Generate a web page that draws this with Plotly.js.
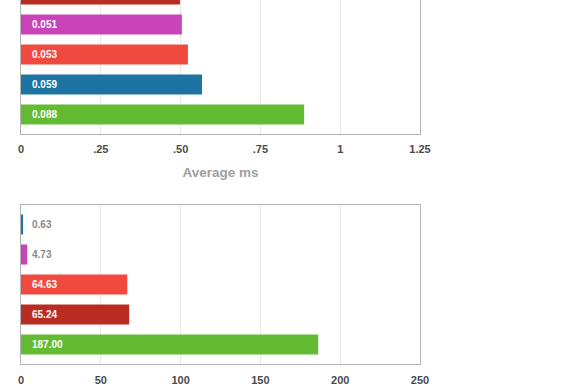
<!DOCTYPE html>
<html>
<head>
<meta charset="utf-8">
<script src="https://cdn.plot.ly/plotly-3.0.1.min.js"></script>
<style>
html,body{margin:0;padding:0;background:#fff;overflow:hidden;}
#chart{width:580px;height:415px;margin-top:-25px;}
</style>
</head>
<body>
<div id="chart"></div>
<script>
// Top chart (Average ms): categories top-to-bottom
const topCategories = ["lib A", "lib B", "lib C", "lib D", "lib E"];
const topValues = [0.498, 0.504, 0.523, 0.567, 0.887];
const topLabels = ["", "0.051", "0.053", "0.059", "0.088"];
const topColors = ["#b92c22", "#c944b8", "#f04a40", "#1d74a2", "#63bb34"];
const topTickVals = [0, 0.25, 0.5, 0.75, 1, 1.25];
const topTickText = ["0", ".25", ".50", ".75", "1", "1.25"];

// Bottom chart
const botCategories = ["lib D", "lib B", "lib C", "lib A", "lib E"];
const botValues = [1.3, 3.9, 66.6, 67.8, 186.2];
const botLabels = ["0.63", "4.73", "64.63", "65.24", "187.00"];
const botColors = ["#1d74a2", "#c944b8", "#f04a40", "#b92c22", "#63bb34"];
const botTickVals = [0, 50, 100, 150, 200, 250];
const botTickText = ["0", "50", "100", "150", "200", "250"];

const FONT = "'Liberation Sans', Arial, Helvetica, sans-serif";

const traces = [
  {type: "bar", orientation: "h", x: topValues, y: topCategories,
   marker: {color: topColors}, width: 0.667, xaxis: "x", yaxis: "y",
   hoverinfo: "none", showlegend: false},
  {type: "bar", orientation: "h", x: botValues, y: botCategories,
   marker: {color: botColors}, width: 0.667, xaxis: "x2", yaxis: "y2",
   hoverinfo: "none", showlegend: false}
];

const annotations = [];
function addLabels(cats, vals, labels, xref, yref, threshold) {
  cats.forEach((c, i) => {
    if (!labels[i]) return;
    const inside = vals[i] > threshold;
    annotations.push({
      x: 0, y: c, xref: xref, yref: yref, text: labels[i],
      showarrow: false, xanchor: "left", yanchor: "middle", xshift: 9,
      font: {family: FONT, size: 10, weight: "bold", color: inside ? "#ffffff" : "#8a8a8a"}
    });
  });
}
addLabels(topCategories, topValues, topLabels, "x", "y", 0.1);
addLabels(botCategories, botValues, botLabels, "x2", "y2", 20);

const axisCommon = {
  showline: true, mirror: true, linecolor: "#b3b3b3", linewidth: 1,
  showgrid: true, gridcolor: "#e8e8e8", gridwidth: 1, zeroline: false,
  ticks: "outside", tickcolor: "rgba(0,0,0,0)",
  tickfont: {family: FONT, size: 11, weight: "bold", color: "#4a4a4a"},
  fixedrange: true
};

const layout = {
  width: 580, height: 415,
  margin: {l: 21, r: 160, t: 0, b: 26},
  paper_bgcolor: "#ffffff", plot_bgcolor: "#ffffff",
  font: {family: FONT},
  xaxis: Object.assign({}, axisCommon, {
    anchor: "y", range: [0, 1.25], tickvals: topTickVals, ticktext: topTickText, ticklen: 5,
    title: {text: "Average ms", standoff: 13,
            font: {family: FONT, size: 13.5, weight: "bold", color: "#a0a0a0"}}
  }),
  yaxis: {domain: [230/389, 1], anchor: "x", range: [4.65, -0.65],
          type: "category", categoryorder: "array", categoryarray: topCategories,
          showticklabels: false, showgrid: false, zeroline: false,
          showline: true, mirror: true, linecolor: "#b3b3b3", linewidth: 1, ticks: "", fixedrange: true},
  xaxis2: Object.assign({}, axisCommon, {
    anchor: "y2", range: [0, 250], tickvals: botTickVals, ticktext: botTickText, ticklen: 6
  }),
  yaxis2: {domain: [0, 159/389], anchor: "x2", range: [4.65, -0.65],
           type: "category", categoryorder: "array", categoryarray: botCategories,
           showticklabels: false, showgrid: false, zeroline: false,
           showline: true, mirror: true, linecolor: "#b3b3b3", linewidth: 1, ticks: "", fixedrange: true},
  annotations: annotations,
  bargap: 0.333
};

Plotly.newPlot("chart", traces, layout, {displayModeBar: false, staticPlot: true});
</script>
</body>
</html>
